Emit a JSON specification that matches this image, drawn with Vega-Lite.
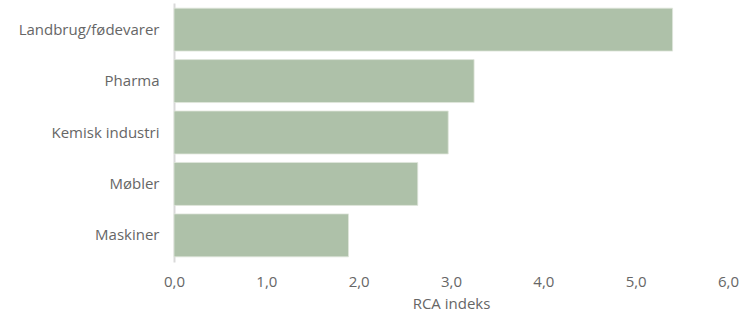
{
  "$schema": "https://vega.github.io/schema/vega-lite/v6.json",
  "autosize": "none",
  "width": 554,
  "height": 259,
  "padding": {"left": 174, "top": 3, "right": 13, "bottom": 56},
  "background": "white",
  "data": {"values": [
    {"sektor": "Landbrug/fødevarer", "rca": 5.40},
    {"sektor": "Pharma", "rca": 3.25},
    {"sektor": "Kemisk industri", "rca": 2.97},
    {"sektor": "Møbler", "rca": 2.64},
    {"sektor": "Maskiner ", "rca": 1.89}
  ]},
  "mark": {"type": "bar", "color": "#aec1a9", "stroke": "#dfe6dc", "strokeWidth": 0.8},
  "encoding": {
    "y": {
      "field": "sektor", "type": "nominal", "sort": null,
      "scale": {"paddingInner": 0.165, "paddingOuter": 0.1},
      "axis": {"title": null, "ticks": false, "domainColor": "#d9d9d9", "domainWidth": 2,
               "labelFont": "Open Sans", "labelFontSize": 15, "labelColor": "#666666", "labelPadding": 15}
    },
    "x": {
      "field": "rca", "type": "quantitative",
      "scale": {"domain": [0, 6], "nice": false},
      "axis": {"title": "RCA indeks", "values": [0, 1, 2, 3, 4, 5, 6],
               "labelExpr": "replace(format(datum.value, '.1f'), '.', ',')",
               "grid": false, "ticks": false, "domain": false, "labelFlush": false,
               "labelFont": "Open Sans", "labelFontSize": 15, "labelColor": "#666666", "labelPadding": 12,
               "titleFont": "Open Sans", "titleFontSize": 15, "titleColor": "#666666", "titleFontWeight": "normal", "titlePadding": 7}
    }
  },
  "config": {"view": {"stroke": null}}
}
